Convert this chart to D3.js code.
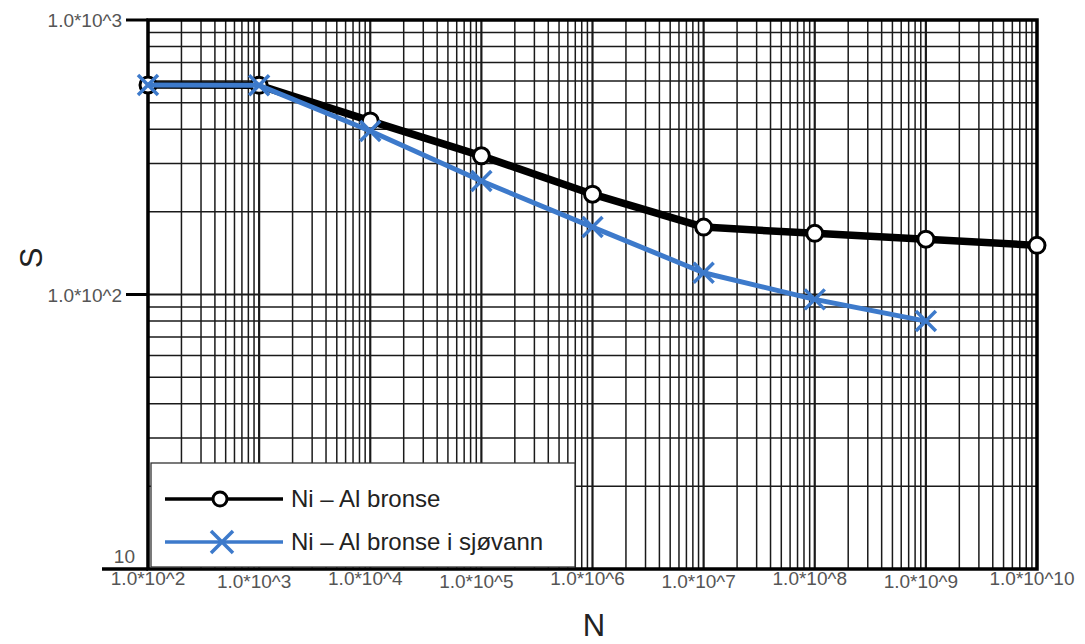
<!DOCTYPE html>
<html>
<head>
<meta charset="utf-8">
<script src="https://cdn.jsdelivr.net/npm/d3@7"></script>
<style>
  body { margin: 0; background: #fff; }
  text { font-family: "Liberation Sans", Arial, sans-serif; }
</style>
</head>
<body>
<script>
// Data
var cycles = [1e2, 1e3, 1e4, 1e5, 1e6, 1e7, 1e8, 1e9, 1e10];
var bronse = [580, 578, 429, 320, 232, 176, 167, 159, 151];
var bronseSea = [580, 578, 394, 259, 176, 120, 96, 80];
var xTickLabels = ["1.0*10^2", "1.0*10^3", "1.0*10^4", "1.0*10^5", "1.0*10^6",
                   "1.0*10^7", "1.0*10^8", "1.0*10^9", "1.0*10^10"];
var yTickValues = [10, 100, 1000];
var yTickLabels = ["10", "1.0*10^2", "1.0*10^3"];
var seriesNames = ["Ni \u2013 Al bronse", "Ni \u2013 Al bronse i sj\u00f8vann"];

var width = 1085, height = 644;
var plotLeft = 148, plotRight = 1037, plotTop = 20, plotBottom = 569;
var blue = "#3d7acb";

var svg = d3.select("body").append("svg")
    .attr("width", width)
    .attr("height", height);

var x = d3.scaleLog().domain([1e2, 1e10]).range([plotLeft, plotRight]);
var y = d3.scaleLog().domain([10, 1000]).range([plotBottom, plotTop]);

function isDecade(v) {
    var l = Math.log10(v);
    return Math.abs(l - Math.round(l)) < 1e-9;
}

// Grid
var grid = svg.append("g");
grid.selectAll(".vgrid")
    .data(x.ticks(10))
    .enter().append("line")
    .attr("x1", function(d) { return x(d); })
    .attr("x2", function(d) { return x(d); })
    .attr("y1", plotTop)
    .attr("y2", plotBottom)
    .attr("stroke", "#1a1a1a")
    .attr("stroke-width", function(d) { return isDecade(d) ? 2.2 : 1.5; });

grid.selectAll(".hgrid")
    .data(y.ticks(10))
    .enter().append("line")
    .attr("x1", plotLeft)
    .attr("x2", plotRight)
    .attr("y1", function(d) { return y(d); })
    .attr("y2", function(d) { return y(d); })
    .attr("stroke", "#1a1a1a")
    .attr("stroke-width", function(d) { return isDecade(d) ? 2.2 : 1.5; });

// Frame
svg.append("rect")
    .attr("x", plotLeft)
    .attr("y", plotTop)
    .attr("width", plotRight - plotLeft)
    .attr("height", plotBottom - plotTop)
    .attr("fill", "none")
    .attr("stroke", "#000")
    .attr("stroke-width", 3.5);

// Y ticks and labels
svg.selectAll(".ytick")
    .data(yTickValues)
    .enter().append("line")
    .attr("x1", function(d, i) { return i == 0 ? 102 : 126; })
    .attr("x2", plotLeft)
    .attr("y1", function(d) { return y(d); })
    .attr("y2", function(d) { return y(d); })
    .attr("stroke", "#000")
    .attr("stroke-width", function(d, i) { return i == 0 ? 3.5 : 3; });

svg.selectAll(".ylabel")
    .data(yTickValues)
    .enter().append("text")
    .attr("x", function(d, i) { return i == 0 ? 135 : 122; })
    .attr("y", function(d, i) { return i == 0 ? y(d) - 6 : y(d) + 7; })
    .attr("text-anchor", "end")
    .attr("font-size", 19)
    .attr("fill", "#555")
    .text(function(d, i) { return yTickLabels[i]; });

// X labels
svg.selectAll(".xlabel")
    .data(cycles)
    .enter().append("text")
    .attr("x", function(d, i) { return x(d) - (i == 0 ? 0 : 5); })
    .attr("y", function(d, i) { return 585 + (i % 2) * 3; })
    .attr("text-anchor", "middle")
    .attr("font-size", 19)
    .attr("fill", "#555")
    .text(function(d, i) { return xTickLabels[i]; });

// Axis titles
svg.append("text")
    .attr("x", 594)
    .attr("y", 636)
    .attr("text-anchor", "middle")
    .attr("font-size", 31)
    .attr("fill", "#222")
    .text("N");

svg.append("text")
    .attr("transform", "translate(42,258) rotate(-90)")
    .attr("text-anchor", "middle")
    .attr("font-size", 31)
    .attr("fill", "#222")
    .text("S");

// Lines
var line = d3.line()
    .x(function(d) { return x(d[0]); })
    .y(function(d) { return y(d[1]); });

var blackPts = cycles.map(function(c, i) { return [c, bronse[i]]; });
var bluePts = bronseSea.map(function(v, i) { return [cycles[i], v]; });

svg.append("path")
    .attr("d", line(blackPts))
    .attr("fill", "none")
    .attr("stroke", "#000")
    .attr("stroke-width", 7.5)
    .attr("stroke-linejoin", "round");

svg.selectAll(".circ")
    .data(blackPts)
    .enter().append("circle")
    .attr("cx", function(d) { return x(d[0]); })
    .attr("cy", function(d) { return y(d[1]); })
    .attr("r", 8)
    .attr("fill", "#fff")
    .attr("stroke", "#000")
    .attr("stroke-width", 3);

svg.append("path")
    .attr("d", line(bluePts))
    .attr("fill", "none")
    .attr("stroke", blue)
    .attr("stroke-width", 5)
    .attr("stroke-linejoin", "round");

function cross(g, cx, cy, s) {
    g.append("path")
        .attr("d", "M" + (cx - s) + "," + (cy - s) + "L" + (cx + s) + "," + (cy + s) +
                   "M" + (cx - s) + "," + (cy + s) + "L" + (cx + s) + "," + (cy - s))
        .attr("stroke", blue)
        .attr("stroke-width", 3.5)
        .attr("fill", "none");
}
bluePts.forEach(function(d) { cross(svg, x(d[0]), y(d[1]), 10); });

// Legend
var legend = svg.append("g");
legend.append("rect")
    .attr("x", 151)
    .attr("y", 463)
    .attr("width", 424)
    .attr("height", plotBottom - 463 - 2)
    .attr("fill", "#fff")
    .attr("stroke", "#333")
    .attr("stroke-width", 1.3);

var legendY = [499, 542];
legend.append("line")
    .attr("x1", 165).attr("x2", 283)
    .attr("y1", legendY[0]).attr("y2", legendY[0])
    .attr("stroke", "#000").attr("stroke-width", 3.5);
legend.append("circle")
    .attr("cx", 220).attr("cy", legendY[0]).attr("r", 7)
    .attr("fill", "#fff").attr("stroke", "#000").attr("stroke-width", 3);

legend.append("line")
    .attr("x1", 165).attr("x2", 283)
    .attr("y1", legendY[1]).attr("y2", legendY[1])
    .attr("stroke", blue).attr("stroke-width", 3.5);
cross(legend, 222, legendY[1], 11);

legend.selectAll(".ltext")
    .data(seriesNames)
    .enter().append("text")
    .attr("x", 291)
    .attr("y", function(d, i) { return legendY[i] + 8; })
    .attr("font-size", 24)
    .attr("fill", "#222")
    .text(function(d) { return d; });
</script>
</body>
</html>
